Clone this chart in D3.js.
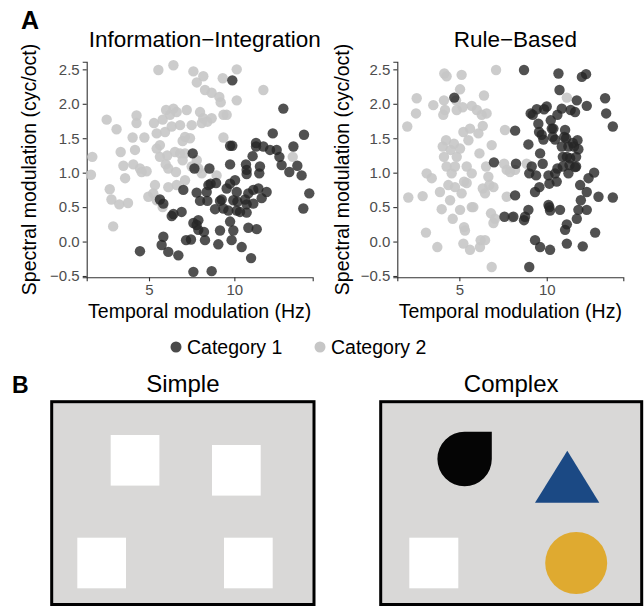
<!DOCTYPE html>
<html>
<head>
<meta charset="utf-8">
<script src="https://cdn.jsdelivr.net/npm/d3@7"></script>
<style>
  body { margin: 0; background: #fff; }
  svg { font-family: "Liberation Sans", Arial, Helvetica, sans-serif; }
</style>
</head>
<body>
<script>
// temporal (Hz), spectral (cyc/oct) pairs
var ii_cat2 = [
  [1.68,1.23],[1.6,0.97],[2.52,1.77],[3.1,1.63],[2.7,0.76],[2.8,0.61],[3.26,0.54],[2.9,0.22],
  [3.34,1.30],[3.5,1.10],[3.6,0.92],[3.77,0.56],[4.04,1.51],[4.27,1.83],[4.27,1.72],[4.08,1.12],
  [4.18,1.33],[4.47,1.06],[4.57,1.01],[4.73,1.51],[4.86,1.02],[4.96,0.65],[5.25,0.70],[5.35,0.82],
  [5.29,1.72],[5.45,1.57],[5.55,2.49],[5.45,1.35],[5.64,1.40],[5.8,1.77],[5.94,1.59],[6.0,1.91],
  [6.07,1.25],[6.23,1.84],[6.43,2.56],[6.43,1.93],[6.33,1.67],[6.13,1.06],[5.98,1.12],[6.62,1.88],
  [6.58,1.01],[6.82,1.69],[6.97,1.46],[7.11,1.52],[7.21,1.91],[7.4,1.50],[7.5,1.69],[7.6,2.47],
  [7.8,2.31],[7.99,1.88],[8.09,1.72],[8.18,2.40],[8.28,2.20],[8.18,1.79],[8.42,1.74],[8.67,1.79],
  [8.67,2.16],[9.12,2.10],[9.2,2.02],[9.32,2.37],[9.36,1.84],[9.55,1.84],[10.14,2.5],[10.14,2.05],
  [11.7,2.2],[9.36,1.51],[7.8,1.18],[7.5,1.09],[7.89,1.06],[8.09,0.99],[8.96,0.96],[7.11,0.89],
  [6.62,0.82],[6.97,1.18],[6.82,1.28],[7.11,1.28],[5.45,0.60],[5.8,0.50],[13.42,1.23],[6.13,0.79],
  [6.52,1.30],[5.64,1.23]
];
var ii_cat1 = [
  [9.88,2.34],[12.87,1.93],[12.25,1.57],[14.08,1.55],[13.46,1.38],[12.48,1.33],[12.09,1.33],[11.7,1.38],
  [11.27,1.43],[11.27,1.38],[11.07,1.24],[10.68,1.12],[10.72,1.04],[10.72,0.98],[11.46,0.99],[11.5,1.09],
  [12.64,1.23],[12.77,1.11],[13.22,1.01],[13.69,1.10],[13.94,0.96],[14.39,0.70],[14.04,0.48],[9.75,1.39],
  [9.88,1.39],[9.75,1.12],[7.56,1.28],[7.66,1.06],[8.54,1.06],[10.04,0.89],[9.75,0.84],[8.93,0.85],
  [8.61,0.84],[8.48,0.82],[7.01,0.75],[7.79,0.71],[8.38,0.72],[5.64,0.61],[5.84,0.55],[7.99,0.59],
  [8.42,0.59],[9.26,0.61],[9.16,0.59],[9.94,0.60],[10.18,0.58],[10.63,0.61],[10.82,0.70],[11.11,0.75],
  [11.41,0.77],[11.89,0.72],[11.6,0.63],[11.11,0.55],[10.72,0.54],[10.14,0.45],[9.65,0.45],[9.36,0.48],
  [8.87,0.47],[6.91,0.43],[6.33,0.37],[6.43,0.40],[7.6,0.27],[7.89,0.31],[7.79,0.24],[7.89,0.17],
  [8.22,0.14],[9.16,0.16],[9.75,0.29],[9.94,0.16],[10.82,0.20],[11.31,0.18],[10.72,0.42],[5.84,0.07],
  [5.74,-0.05],[6.13,-0.15],[6.72,-0.2],[4.47,-0.14],[7.17,0.02],[7.46,0.03],[8.28,0.02],[9.06,-0.04],
  [9.84,0.02],[10.43,-0.08],[10.98,-0.24],[7.6,-0.44],[8.67,-0.43],[10.33,0.43],[10.14,0.72],[9.55,0.77]
];
var rb_cat2 = [
  [2.02,1.67],[2.08,0.64],[2.52,1.86],[2.56,2.08],[2.9,0.66],[3.09,0.13],[3.13,0.99],[3.42,0.92],
  [3.51,1.98],[3.74,-0.08],[3.89,0.72],[3.99,0.47],[4.14,2.44],[4.27,2.40],[4.12,2.05],[4.18,1.91],
  [4.08,1.84],[4.05,1.38],[4.24,1.47],[4.12,1.23],[4.27,1.09],[4.37,0.82],[4.47,0.60],[4.62,0.33],
  [4.56,0.99],[4.5,1.33],[4.69,1.42],[4.81,2.05],[4.85,1.91],[4.75,1.09],[4.85,1.23],[5.04,1.35],
  [5.04,2.21],[5.13,2.42],[5.04,0.46],[5.19,1.95],[5.23,1.59],[5.27,0.21],[5.32,0.16],[5.27,0.87],
  [5.42,1.09],[5.52,1.47],[5.61,1.64],[5.71,1.97],[5.71,0.50],[5.8,0.50],[5.61,-0.12],[5.71,0.99],
  [5.23,-0.03],[5.42,0.85],[6.0,1.91],[6.09,1.57],[6.15,1.28],[6.18,-0.08],[6.22,0.02],[6.34,0.77],
  [6.28,1.84],[6.34,1.68],[6.41,2.12],[6.47,0.02],[6.56,1.86],[6.66,0.94],[6.72,0.82],[6.53,1.09],
  [6.47,0.70],[6.85,1.40],[6.95,0.79],[6.85,-0.37],[6.81,0.41],[7.04,0.33],[6.95,0.27],[7.1,2.49],
  [7.61,1.62],[7.71,0.65],[7.56,1.13],[7.71,1.04],[7.9,1.01],[8.0,0.35],[8.19,1.04],[8.85,1.13],
  [11.15,2.09],[5.13,0.70],[4.75,0.79]
];
var rb_cat1 = [
  [4.71,2.09],[6.98,1.15],[8.19,1.61],[8.24,1.13],[8.19,0.67],[7.58,0.36],[8.09,0.36],[8.7,2.49],
  [8.7,0.31],[8.76,0.36],[8.95,1.41],[9.0,0.99],[8.95,0.46],[9.0,-0.37],[9.08,1.86],[9.2,1.84],
  [9.14,1.09],[9.33,0.72],[9.39,0.96],[9.33,0.02],[9.43,1.92],[9.52,1.71],[9.56,1.59],[9.58,0.79],
  [9.62,-0.08],[9.62,1.28],[9.71,1.55],[9.85,1.92],[9.81,1.48],[9.77,1.13],[10.0,1.96],[10.1,0.96],
  [10.1,0.53],[10.15,0.50],[10.15,0.84],[10.19,-0.12],[10.19,0.45],[10.23,1.76],[10.29,1.64],[10.38,1.64],
  [10.34,1.52],[10.48,1.48],[10.48,0.99],[10.57,0.87],[10.67,2.44],[10.61,1.84],[10.61,1.06],[10.73,2.20],
  [10.76,0.46],[10.86,1.38],[10.92,1.23],[10.86,1.93],[10.92,1.09],[11.05,1.62],[11.11,1.50],[11.0,1.52],
  [11.15,0.25],[11.05,0.17],[11.15,-0.03],[11.24,1.38],[11.24,0.99],[11.3,1.11],[11.34,1.21],[11.37,1.91],
  [11.49,1.43],[11.56,1.38],[11.68,1.23],[11.68,1.09],[11.72,0.33],[11.76,1.47],[11.81,1.34],[11.91,0.82],
  [11.95,0.60],[12.06,-0.07],[12.01,2.39],[12.25,2.43],[11.72,2.05],[11.62,1.88],[11.81,0.46],[12.29,1.97],
  [12.29,0.72],[12.39,0.92],[12.29,0.46],[12.71,1.00],[12.77,0.13],[12.96,0.65],[13.34,2.08],[13.4,1.86],
  [13.78,1.67],[13.78,0.64],[11.62,1.08],[11.15,1.23]
];

var xTicks = [5, 10];
var yTicks = [-0.5, 0.0, 0.5, 1.0, 1.5, 2.0, 2.5];
var categories = ["Category 1", "Category 2"];
var taskNames = ["Information\u2212Integration", "Rule\u2212Based"];
var setNames = ["Simple", "Complex"];

var catColor = { dark: "#262626", light: "#c6c6c6" };

var width = 644, height = 607;
var svg = d3.select("body").append("svg").attr("width", width).attr("height", height);

// panel A -----------------------------------------------------------------
var panels = [
  { title: taskNames[0], left: 86.7, right: 312.7, xdom: [1.35, 14.59], cat1: ii_cat1, cat2: ii_cat2, ylab: 29 },
  { title: taskNames[1], left: 397.3, right: 623.3, xdom: [1.45, 14.38], cat1: rb_cat1, cat2: rb_cat2, ylab: 342 }
];
var plotTop = 61.7, plotBottom = 277.3;

var y = d3.scaleLinear().domain([2.611, -0.519]).range([plotTop, plotBottom]);

panels.forEach(function(p) {
  var x = d3.scaleLinear().domain(p.xdom).range([p.left, p.right]);
  var g = svg.append("g");

  var xAxis = g.append("g")
    .attr("transform", "translate(0," + plotBottom + ")")
    .call(d3.axisBottom(x).tickValues(xTicks).tickSize(4).tickPadding(3).tickFormat(d3.format("d")));
  var yAxis = g.append("g")
    .attr("transform", "translate(" + p.left + ",0)")
    .call(d3.axisLeft(y).tickValues(yTicks).tickSize(4).tickPadding(3)
      .tickFormat(function(d) { return d3.format(".1f")(d).replace("-", "\u2212"); }));

  [xAxis, yAxis].forEach(function(a) {
    a.select(".domain").attr("stroke", "#333").attr("stroke-width", 1.1);
    a.selectAll(".tick line").attr("stroke", "#333").attr("stroke-width", 1.1);
    a.selectAll(".tick text").attr("fill", "#4d4d4d").style("font-size", "15px")
      .style("font-family", "Liberation Sans, Arial, sans-serif");
  });

  g.append("g").selectAll("circle")
    .data(p.cat2).enter().append("circle")
    .attr("cx", function(d) { return x(d[0]); })
    .attr("cy", function(d) { return y(d[1]); })
    .attr("r", 5.2)
    .attr("fill", catColor.light)
    .attr("fill-opacity", 0.9);

  g.append("g").selectAll("circle")
    .data(p.cat1).enter().append("circle")
    .attr("cx", function(d) { return x(d[0]); })
    .attr("cy", function(d) { return y(d[1]); })
    .attr("r", 5.2)
    .attr("fill", catColor.dark)
    .attr("fill-opacity", 0.8);

  g.append("text")
    .attr("x", (p.left + p.right) / 2 + 5)
    .attr("y", 47)
    .attr("text-anchor", "middle")
    .style("font-size", "22.5px")
    .text(p.title);

  g.append("text")
    .attr("x", (p.left + p.right) / 2)
    .attr("y", 318)
    .attr("text-anchor", "middle")
    .style("font-size", "19.5px")
    .text("Temporal modulation (Hz)");

  g.append("text")
    .attr("transform", "translate(" + (p.ylab + 7) + "," + (plotTop + plotBottom) / 2 + ") rotate(-90)")
    .attr("text-anchor", "middle")
    .style("font-size", "19.5px")
    .text("Spectral modulation (cyc/oct)");
});

svg.append("text").attr("x", 21).attr("y", 29)
  .style("font-size", "25px").style("font-weight", "bold").text("A");

// legend
var legend = svg.append("g").attr("transform", "translate(0,347)");
var legendX = d3.scalePoint().domain(categories).range([176, 320]);
var legendItem = legend.selectAll("g").data(categories).enter().append("g")
  .attr("transform", function(d) { return "translate(" + legendX(d) + ",0)"; });
legendItem.append("circle").attr("r", 5.5)
  .attr("fill", function(d, i) { return i === 0 ? "#4a4a4a" : catColor.light; });
legendItem.append("text").attr("x", 11).attr("y", 7)
  .style("font-size", "19.5px").text(function(d) { return d; });

// panel B -----------------------------------------------------------------
svg.append("text").attr("x", 12).attr("y", 393)
  .style("font-size", "23px").style("font-weight", "bold").text("B");

var boxes = [
  { name: setNames[0], x0: 51.7, x1: 314 },
  { name: setNames[1], x0: 380.7, x1: 641.7 }
];
var boxTop = 401.7, boxBottom = 604.5;

boxes.forEach(function(b) {
  svg.append("rect")
    .attr("x", b.x0).attr("y", boxTop)
    .attr("width", b.x1 - b.x0).attr("height", boxBottom - boxTop)
    .attr("fill", "#d9d8d7").attr("stroke", "#000").attr("stroke-width", 3);
  svg.append("text")
    .attr("x", (b.x0 + b.x1) / 2).attr("y", 392)
    .attr("text-anchor", "middle")
    .style("font-size", "24px")
    .text(b.name);
});

// simple set: four white squares
var simpleSquares = [[110.7, 435], [212, 445], [77.3, 537.7], [224, 537.7]];
svg.append("g").selectAll("rect").data(simpleSquares).enter().append("rect")
  .attr("x", function(d) { return d[0]; }).attr("y", function(d) { return d[1]; })
  .attr("width", 48.7).attr("height", 50.6).attr("fill", "#fff");

// complex set
var cplx = svg.append("g");
cplx.append("rect").attr("x", 409.3).attr("y", 537.7).attr("width", 49).attr("height", 50.6).attr("fill", "#fff");

var dropPath = d3.path();
var dcx = 464.6, dcy = 459, dr = 27.2;
dropPath.moveTo(dcx, dcy - dr);
dropPath.lineTo(dcx + dr, dcy - dr);
dropPath.lineTo(dcx + dr, dcy);
dropPath.arc(dcx, dcy, dr, 0, Math.PI * 1.5, false);
dropPath.closePath();
cplx.append("path").attr("d", dropPath.toString()).attr("fill", "#050505");

cplx.append("path")
  .attr("d", d3.line()([[567.3, 450.7], [599.3, 502.7], [535, 502.7]]) + "Z")
  .attr("fill", "#1b4984");

cplx.append("ellipse").attr("cx", 576.2).attr("cy", 563).attr("rx", 31).attr("ry", 31)
  .attr("fill", "#dfaa30");
</script>
</body>
</html>
